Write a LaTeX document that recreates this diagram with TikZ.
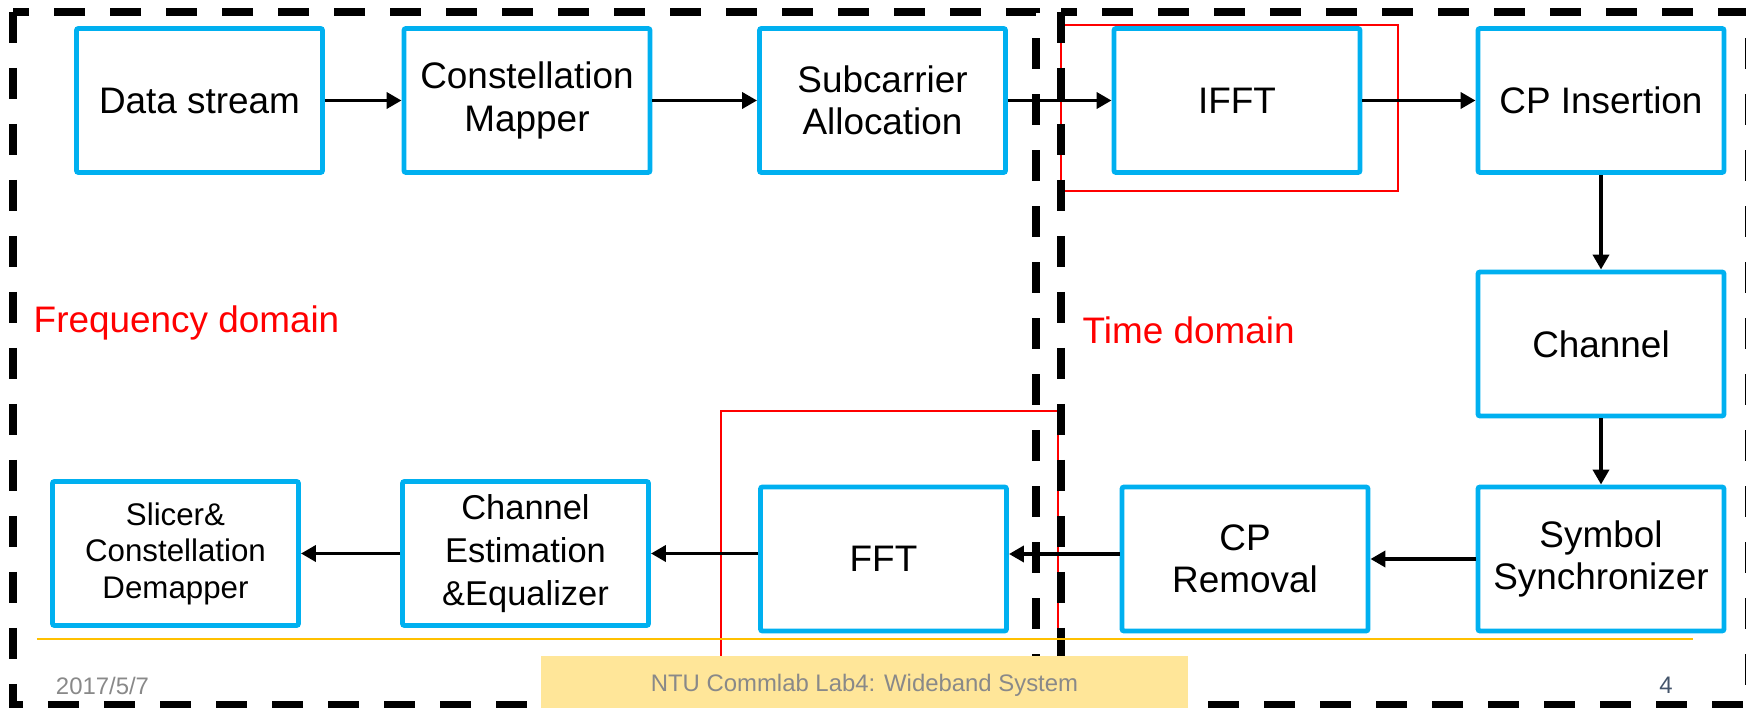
\documentclass[tikz,border=0pt]{standalone}
\usepackage{fontspec}
\setmainfont{Liberation Sans}
\usetikzlibrary{positioning,arrows.meta}

\definecolor{boxblue}{RGB}{0,176,240}
\definecolor{footyellow}{RGB}{255,230,153}
\definecolor{lineyellow}{RGB}{255,192,0}
\definecolor{footgray}{RGB}{137,137,137}
\definecolor{pagegray}{RGB}{68,84,106}

\begin{document}
\begin{tikzpicture}[
			% blue block of the chain
			blockbox/.style={rectangle, draw=boxblue, line width=1.4pt, rounded corners=0.6pt, minimum width=2.46cm, minimum height=1.44cm, align=center, inner sep=1pt, font=\fontsize{10.5}{12}\selectfont},
			% black arrow between two blocks
			flowarrow/.style={-{Triangle[length=1.5mm,width=1.6mm]}, line width=1.1pt},
			% thick dashed frame of a domain
			domainframe/.style={draw=black, line width=2pt, dash pattern=on 3.1mm off 2.5mm},
			% thin red marking
			highlight/.style={draw=red, line width=0.6pt},
			domainlabel/.style={text=red, anchor=west, inner sep=0pt, font=\fontsize{10.5}{12}\selectfont},
			foottext/.style={text=footgray, inner sep=0pt, font=\fontsize{6.8}{8}\selectfont}
		]
		\useasboundingbox (0,0) rectangle (17.46,-7.08);
		\clip (0,0) rectangle (17.46,-7.08);

		% red markings round IFFT and FFT
		\draw[highlight] (10.61,-0.25) rectangle (13.98,-1.91);
		\draw[highlight] (7.21,-7.3) -- (7.21,-4.11) -- (10.58,-4.11) -- (10.58,-7.3);

		% domain frames
		\draw[domainframe] (0.13,-0.12) rectangle (10.36,-7.05);
		\draw[domainframe] (10.61,-0.12) rectangle (17.48,-7.05);
		\node[domainlabel]      (freq)          at (0.33,-3.23)                             {Frequency domain};
		\node[domainlabel]      (time)          at (10.82,-3.30)                            {Time domain};

		%Nodes
		\node[blockbox]         (ds)            at (1.995,-1.005)                           {Data stream};
		\node[blockbox]         (cm)            [right of=ds, node distance=3.275cm]        {Constellation\\Mapper};
		\node[blockbox]         (sa)            [right of=cm, node distance=3.555cm]        {Subcarrier\\Allocation};
		\node[blockbox]         (ifft)          [right of=sa, node distance=3.545cm]        {IFFT};
		\node[blockbox]         (cpi)           [right of=ifft, node distance=3.64cm]       {CP Insertion};
		\node[blockbox]         (chan)          [below of=cpi, node distance=2.435cm]       {Channel};
		\node[blockbox]         (sync)          [below of=chan, node distance=2.15cm]       {Symbol\\Synchronizer};
		\node[blockbox]         (cprm)          [left of=sync, node distance=3.56cm]        {CP\\Removal};
		\node[blockbox]         (fft)           [left of=cprm, node distance=3.615cm]       {FFT};
		\node[blockbox, font=\fontsize{9.8}{12.2}\selectfont]
		                        (chest)         [left of=fft, node distance=3.58cm, yshift=0.055cm] {Channel\\Estimation\\\&Equalizer};
		\node[blockbox, font=\fontsize{8.9}{10.4}\selectfont]
		                        (slicer)        [left of=chest, node distance=3.5cm]        {Slicer\&\\Constellation\\Demapper};

		%Lines
		\draw[flowarrow] (ds)       --      (cm);
		\draw[flowarrow] (cm)       --      (sa);
		\draw[flowarrow] (sa)       --      (ifft);
		\draw[flowarrow] (ifft)     --      (cpi);
		\draw[flowarrow] (cpi)      --      (chan);
		\draw[flowarrow] (chan)     --      (sync);
		\draw[flowarrow] (sync)     --      (cprm);
		\draw[flowarrow] ([yshift=0.5mm]cprm.west)  --  ([yshift=0.5mm]fft.east);
		\draw[flowarrow] (fft.west |- chest.east)   --  (chest.east);
		\draw[flowarrow] (chest)    --      (slicer);

		% footer of the slide
		\draw[lineyellow, line width=0.5pt] (0.37,-6.39) -- (16.93,-6.39);
		\fill[footyellow] (5.41,-6.56) rectangle (11.88,-7.1);
		\node[foottext]         (title)         at (8.645,-6.855)                           {NTU Commlab Lab4: Wideband System};
		\node[foottext]         (date)          at (1.025,-6.86)                            {2017/5/7};
		\node[foottext, text=pagegray] (page)   at (16.66,-6.855)                           {4};
	\end{tikzpicture}
\end{document}
